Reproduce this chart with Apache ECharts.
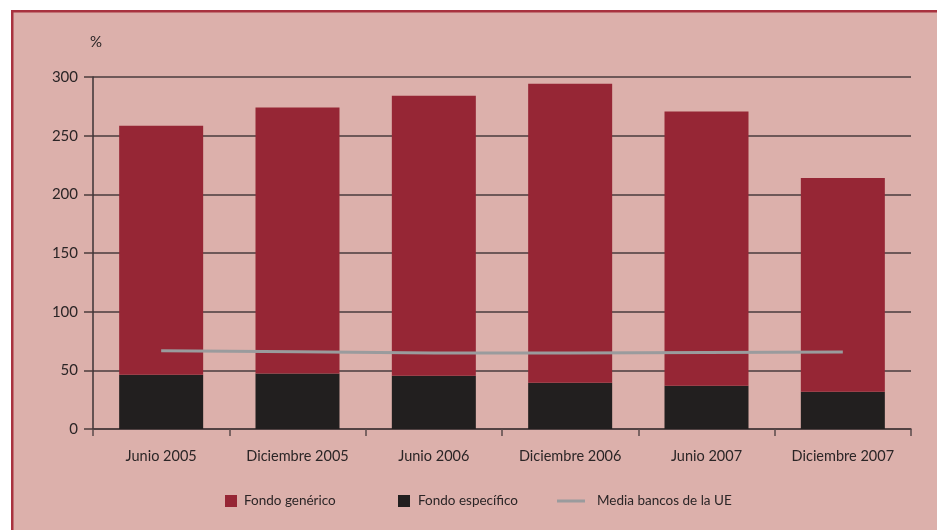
<!DOCTYPE html>
<html>
<head>
<meta charset="utf-8">
<script src="https://cdn.jsdelivr.net/npm/echarts@6/dist/echarts.min.js"></script>
<style>
html,body{margin:0;padding:0;background:#ffffff;}
#chart{width:937px;height:530px;}
</style>
</head>
<body>
<div id="chart"></div>
<script>
const categories = ['Junio 2005', 'Diciembre 2005', 'Junio 2006', 'Diciembre 2006', 'Junio 2007', 'Diciembre 2007'];
const fondoEspecifico = [46.3, 47.2, 45.4, 39.5, 36.9, 31.8];
const fondoGenerico = [212.2, 226.8, 238.6, 254.8, 233.6, 182.2];
const mediaUE = [66.7, 65.9, 64.8, 64.8, 65.3, 65.6];
const yTicks = [0, 50, 100, 150, 200, 250, 300];

const FONT = 'Lato';
const TXT = '#2b2526';

const chart = echarts.init(document.getElementById('chart'), null, {renderer: 'canvas'});
chart.setOption({
  backgroundColor: 'transparent',
  animation: false,
  graphic: [
    {type: 'rect', left: 11, top: 10, z: -10, shape: {x: 0, y: 0, width: 960, height: 560},
     style: {fill: '#dcb0ab', stroke: '#a8323f', lineWidth: 2.5}},
    {type: 'text', left: 90, top: 35, style: {text: '%', font: '15px ' + FONT, fill: TXT}}
  ],
  grid: {left: 93, right: 26, top: 77, bottom: 101, containLabel: false},
  legend: [
    {left: 220, top: 489, itemWidth: 12, itemHeight: 12, itemGap: 0,
     data: [{name: 'Fondo genérico', icon: 'rect'}],
     textStyle: {fontFamily: FONT, fontSize: 13.5, color: TXT, padding: [0, 0, 0, 2]}},
    {left: 393, top: 489, itemWidth: 12, itemHeight: 12, itemGap: 0,
     data: [{name: 'Fondo específico', icon: 'rect'}],
     textStyle: {fontFamily: FONT, fontSize: 13.5, color: TXT, padding: [0, 0, 0, 3]}},
    {left: 552, top: 489, itemWidth: 28, itemHeight: 3, itemGap: 0,
     data: [{name: 'Media bancos de la UE', icon: 'rect'}],
     textStyle: {fontFamily: FONT, fontSize: 13.5, color: TXT, padding: [0, 0, 0, 7]}}
  ],
  xAxis: {
    type: 'category',
    data: categories,
    boundaryGap: true,
    axisLine: {show: true, lineStyle: {color: '#4a3b3c', width: 1.5}},
    axisTick: {show: true, length: 7, lineStyle: {color: '#5a4a4b', width: 1.5}},
    axisLabel: {fontFamily: FONT, fontSize: 14.5, color: TXT, margin: 20}
  },
  yAxis: {
    type: 'value',
    min: 0, max: 300, interval: 50,
    axisLine: {show: true, lineStyle: {color: '#3d3334', width: 1.5}},
    axisTick: {show: true, length: 9, lineStyle: {color: '#4a3b3c', width: 1.5}},
    splitLine: {show: true, lineStyle: {color: '#4a3b3c', width: 1.5}},
    axisLabel: {fontFamily: FONT, fontSize: 15, color: TXT, margin: 15,
      formatter: v => yTicks.includes(v) ? String(v) : ''}
  },
  series: [
    {name: 'Fondo específico', type: 'bar', stack: 'f', data: fondoEspecifico,
     barWidth: 84, itemStyle: {color: '#221f1f'}, z: 3},
    {name: 'Fondo genérico', type: 'bar', stack: 'f', data: fondoGenerico,
     barWidth: 84, itemStyle: {color: '#962635'}, z: 3},
    {name: 'Media bancos de la UE', type: 'line', data: mediaUE,
     symbol: 'none', lineStyle: {color: '#9a9b9d', width: 3}, itemStyle: {color: '#9a9b9d'}, z: 5}
  ]
});
</script>
</body>
</html>
